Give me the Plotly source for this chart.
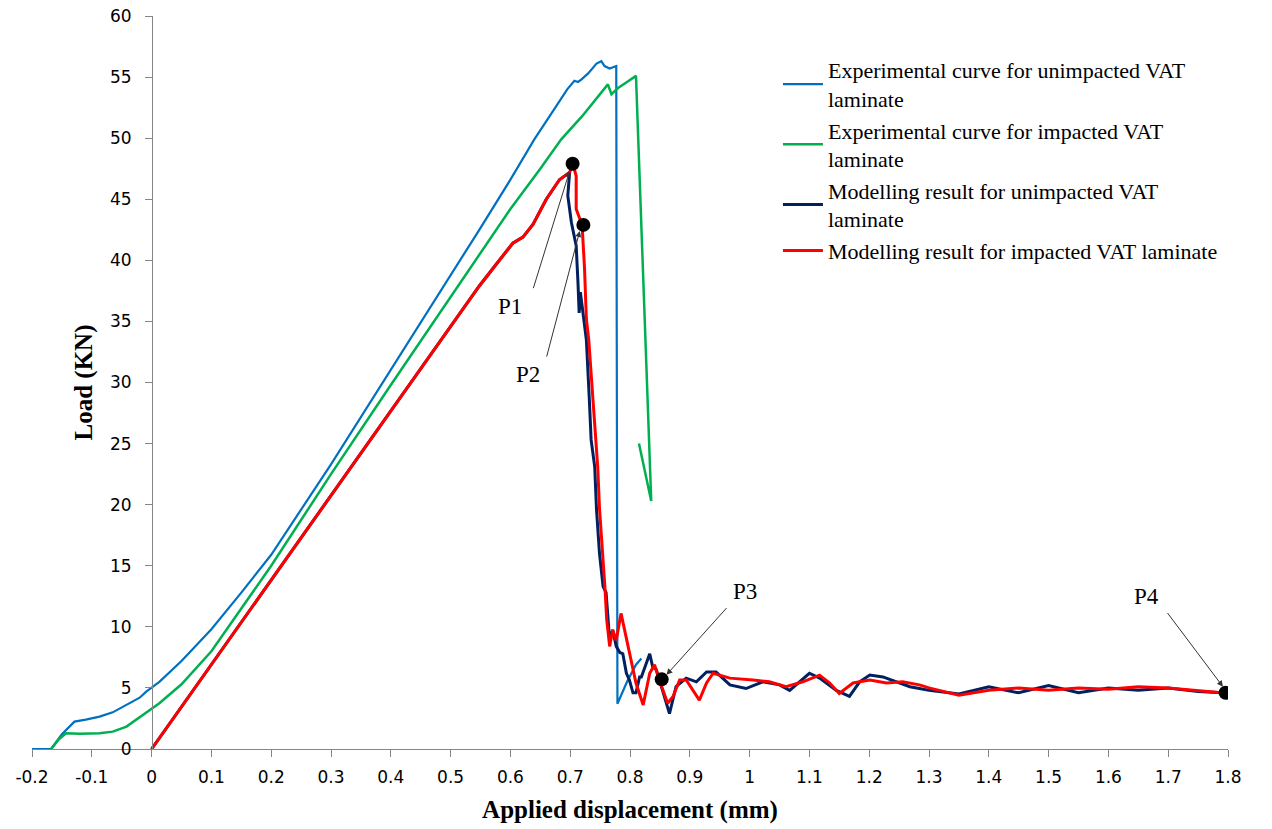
import plotly.graph_objects as go

# ---------------- data ----------------
exp_unimp_x = [-0.2, -0.168, -0.15, -0.129, -0.11, -0.087, -0.065, -0.042, -0.02, -0.009, 0.013, 0.05, 0.1, 0.15,
               0.2, 0.3, 0.4, 0.5, 0.548, 0.6, 0.64, 0.683, 0.695, 0.707, 0.713, 0.7185, 0.73, 0.744, 0.752, 0.7575,
               0.766, 0.777, 0.779, 0.795, 0.81, 0.819]
exp_unimp_y = [0, 0, 1.2, 2.24, 2.4, 2.65, 3.0, 3.6, 4.2, 4.7, 5.5, 7.2, 9.8, 12.8,
               15.9, 23.3, 31.0, 38.7, 42.5, 46.6, 49.9, 53.1, 54.0, 54.7, 54.6, 54.8, 55.3, 56.1, 56.3, 55.9,
               55.7, 55.9, 3.7, 5.5, 6.9, 7.4]

exp_imp_x = [-0.168, -0.155, -0.143, -0.12, -0.087, -0.065, -0.042, -0.015, 0.013, 0.05, 0.1, 0.2, 0.3, 0.4, 0.5,
             0.548, 0.6, 0.65, 0.685, 0.72, 0.744, 0.763, 0.769, 0.78, 0.795, 0.81, 0.8355, 0.815]
exp_imp_y = [0, 0.8, 1.29, 1.25, 1.29, 1.42, 1.83, 2.8, 3.75, 5.3, 8.0, 15.0, 22.5, 29.8, 37.0,
             40.4, 44.2, 47.5, 49.9, 51.8, 53.2, 54.4, 53.6, 54.1, 54.6, 55.1, 20.3, 25.0]

mod_unimp_x = [0, 0.1, 0.2, 0.3, 0.4, 0.5, 0.548, 0.575, 0.604, 0.621, 0.638, 0.66, 0.682, 0.699, 0.696, 0.702,
               0.71, 0.713, 0.715, 0.717, 0.727, 0.732, 0.735, 0.741, 0.744, 0.749, 0.755, 0.760, 0.763, 0.766,
               0.771, 0.777, 0.783, 0.788, 0.794, 0.799, 0.805, 0.81, 0.816, 0.819, 0.833, 0.838, 0.844, 0.855,
               0.866, 0.877, 0.894, 0.911, 0.928, 0.944, 0.967, 0.994, 1.022, 1.05, 1.067, 1.10, 1.117, 1.145,
               1.167, 1.184, 1.201, 1.223, 1.245, 1.268, 1.284, 1.3, 1.35, 1.4, 1.45, 1.5, 1.55, 1.6, 1.65, 1.7,
               1.75, 1.79]
mod_unimp_y = [0, 6.9, 13.8, 20.7, 27.6, 34.5, 37.9, 39.6, 41.4, 41.9, 42.95, 45.0, 46.6, 47.2, 45.3, 43.1,
               41.2, 38.2, 35.7, 37.4, 33.5, 28.6, 25.3, 23.1, 19.6, 16.0, 13.3, 12.8, 10.6, 8.9,
               9.75, 8.4, 7.9, 7.8, 6.2, 5.65, 4.6, 4.6, 5.9, 5.9, 7.8, 6.7, 6.5, 4.8,
               2.9, 5.1, 5.8, 5.5, 6.3, 6.3, 5.25, 4.95, 5.5, 5.25, 4.8, 6.2, 5.8, 4.8,
               4.3, 5.5, 6.05, 5.9, 5.5, 5.1, 4.95, 4.8, 4.5, 5.1, 4.6, 5.2, 4.6, 5.0, 4.8, 5.0,
               4.7, 4.6]

mod_imp_x = [0, 0.1, 0.2, 0.3, 0.4, 0.5, 0.548, 0.575, 0.604, 0.621, 0.638, 0.66, 0.682, 0.699, 0.7045, 0.71,
             0.71, 0.716, 0.72, 0.724, 0.727, 0.731, 0.738, 0.746, 0.749, 0.755, 0.758, 0.761, 0.766, 0.771,
             0.777, 0.785, 0.788, 0.791, 0.799, 0.81, 0.822, 0.833, 0.841, 0.849, 0.863, 0.872, 0.883, 0.894,
             0.916, 0.928, 0.939, 0.967, 1.006, 1.033, 1.061, 1.089, 1.117, 1.134, 1.15, 1.173, 1.201, 1.229,
             1.256, 1.284, 1.3, 1.35, 1.4, 1.45, 1.5, 1.55, 1.6, 1.65, 1.7, 1.75, 1.79]
mod_imp_y = [0, 6.9, 13.8, 20.7, 27.6, 34.5, 37.9, 39.6, 41.4, 41.9, 42.95, 45.0, 46.6, 47.2, 47.9, 46.9,
             44.2, 43.4, 42.8, 39.3, 35.2, 33.5, 28.6, 23.1, 19.7, 15.8, 13.3, 10.6, 8.4, 9.75,
             8.9, 11.1, 10.4, 9.75, 8.1, 5.4, 3.6, 6.2, 6.9, 5.65, 3.75, 4.3, 5.65, 5.65,
             4.0, 5.4, 6.2, 5.8, 5.65, 5.5, 5.1, 5.5, 6.05, 5.4, 4.55, 5.4, 5.65, 5.4,
             5.5, 5.25, 5.0, 4.4, 4.8, 5.0, 4.8, 5.0, 4.9, 5.1, 5.0, 4.8, 4.6]

point_labels = ["P1", "P2", "P3", "P4"]
point_x = [0.704, 0.722, 0.853, 1.796]
point_y = [47.9, 42.9, 5.7, 4.6]
label_x = [0.599, 0.629, 0.992, 1.663]
label_y = [36.25, 30.66, 12.9, 12.5]
tail_x = [0.6376, 0.66, 0.9637, 1.697]
tail_y = [37.6, 32.0, 11.66, 11.25]
head_x = [0.699, 0.716, 0.861, 1.7915]
head_y = [47.3, 42.4, 6.07, 5.1]

x_ticks = [-0.2, -0.1, 0, 0.1, 0.2, 0.3, 0.4, 0.5, 0.6, 0.7, 0.8, 0.9, 1, 1.1, 1.2, 1.3, 1.4, 1.5, 1.6, 1.7, 1.8]
y_ticks = [0, 5, 10, 15, 20, 25, 30, 35, 40, 45, 50, 55, 60]

serif = "Liberation Serif, Times New Roman, serif"
sans = "DejaVu Sans, Verdana, sans-serif"

fig = go.Figure()
fig.add_trace(go.Scatter(x=exp_unimp_x, y=exp_unimp_y, mode="lines",
                         line=dict(color="#0070C0", width=2.2), legendgroup="a",
                         name="Experimental curve for unimpacted VAT<br>laminate"))
fig.add_trace(go.Scatter(x=exp_imp_x, y=exp_imp_y, mode="lines",
                         line=dict(color="#00B050", width=2.5), legendgroup="b",
                         name="Experimental curve for impacted VAT<br>laminate"))
fig.add_trace(go.Scatter(x=mod_unimp_x, y=mod_unimp_y, mode="lines",
                         line=dict(color="#002060", width=3), legendgroup="c",
                         name="Modelling result for unimpacted VAT<br>laminate"))
fig.add_trace(go.Scatter(x=mod_imp_x, y=mod_imp_y, mode="lines",
                         line=dict(color="#FF0000", width=3), legendgroup="d",
                         name="Modelling result for impacted VAT laminate"))
fig.add_trace(go.Scatter(x=point_x, y=point_y, mode="markers",
                         marker=dict(color="black", size=14), showlegend=False))

for i, lab in enumerate(point_labels):
    fig.add_annotation(x=label_x[i], y=label_y[i], text=lab, showarrow=False,
                       font=dict(family=serif, size=23, color="black"))
    fig.add_annotation(x=head_x[i], y=head_y[i], ax=tail_x[i], ay=tail_y[i],
                       axref="x", ayref="y", text="", showarrow=True,
                       arrowhead=2, arrowsize=1.2, arrowwidth=1, arrowcolor="#333333")

fig.update_layout(
    width=1272, height=829,
    margin=dict(l=32, r=44, t=16, b=80),
    plot_bgcolor="white", paper_bgcolor="white",
    showlegend=True,
    legend=dict(x=0.6237, y=0.955, xanchor="left", yanchor="top",
                font=dict(family=serif, size=22, color="black"),
                bgcolor="rgba(0,0,0,0)", itemwidth=40, tracegroupgap=0),
    xaxis=dict(range=[-0.2, 1.8], tickvals=x_ticks, ticktext=[f"{v:g}" for v in x_ticks],
               showgrid=False, zeroline=False, showline=True, linecolor="#868686", linewidth=1,
               ticks="outside", ticklen=7, tickcolor="#868686", automargin=False,
               ticklabelstandoff=6,
               tickfont=dict(family=sans, size=17, color="black"),
               title=dict(text="<b>Applied displacement (mm)</b>",
                          font=dict(family=serif, size=25, color="black"), standoff=14)),
    yaxis=dict(range=[0, 60], tickvals=y_ticks, anchor="free", position=120 / 1196,
               showgrid=False, zeroline=False, showline=True, linecolor="#868686", linewidth=1,
               ticks="outside", ticklen=7, tickcolor="#868686", automargin=False,
               ticklabelstandoff=10,
               tickfont=dict(family=sans, size=17, color="black"),
               title=dict(text="<b>Load (KN)</b>",
                          font=dict(family=serif, size=25, color="black"), standoff=9)),
)

# remove the browser's default 8px body margin so the figure fills the window
fig.write_html("out.html", config={"displayModeBar": False},
               post_script="document.body.style.margin='0';")
